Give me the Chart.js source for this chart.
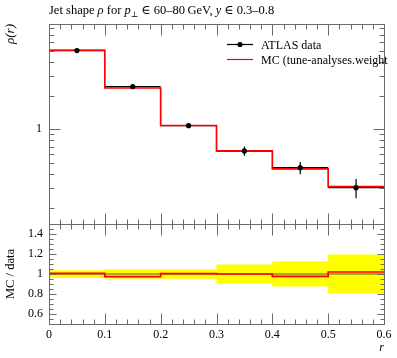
<!DOCTYPE html>
<html><head><meta charset="utf-8">
<script src="https://cdn.jsdelivr.net/npm/chart.js@4/dist/chart.umd.min.js"></script>
<style>
html,body{margin:0;padding:0;background:#fff;}
#wrap{position:relative;width:397px;height:358px;overflow:hidden;}
canvas{position:absolute;left:0;top:0;}
</style></head><body>
<div id="wrap"><canvas id="ratio" width="397" height="358"></canvas><canvas id="main" width="397" height="358"></canvas></div>
<script>
// ---- data ----
const binEdges   = [0, 0.1, 0.2, 0.3, 0.4, 0.5, 0.6];
const binCenters = [0.05, 0.15, 0.25, 0.35, 0.45, 0.55];
const dataRho    = [5.04, 2.40, 1.077, 0.640, 0.454, 0.301];
const dataRelErr = [0.038, 0.047, 0.048, 0.095, 0.125, 0.195];
const mcRho      = [5.07, 2.335, 1.080, 0.640, 0.4435, 0.307];
const xTickVals  = [0, 0.1, 0.2, 0.3, 0.4, 0.5, 0.6];
const xTickLabels = ['0', '0.1', '0.2', '0.3', '0.4', '0.5', '0.6'];
const mainYTickVals = [1];
const ratioTickVals = [0.6, 0.8, 1, 1.2, 1.4];
const ratioTickLabels = ['0.6', '0.8', '1', '1.2', '1.4'];
const legendLabels = ['ATLAS data', 'MC (tune-analyses.weight'];

const SERIF = "'Liberation Serif', 'DejaVu Serif', serif";
const FRAME = '#6a6a6a';
const STEP = 'before';

function stepPoints(vals) {
  const p = vals.map((v, i) => ({x: binEdges[i], y: v}));
  p.push({x: binEdges[vals.length], y: vals[vals.length - 1]});
  return p;
}
function xErrSegments(vals) {
  const p = [];
  vals.forEach((v, i) => { p.push({x: binEdges[i], y: v}, {x: binEdges[i + 1], y: v}, {x: binEdges[i + 1], y: null}); });
  return p;
}
function yErrSegments(vals, rel) {
  const p = [];
  vals.forEach((v, i) => { p.push({x: binCenters[i], y: v * (1 - rel[i])}, {x: binCenters[i], y: v * (1 + rel[i])}, {x: binCenters[i], y: null}); });
  return p;
}
const ratioMC = mcRho.map((v, i) => v / dataRho[i]);
const ratioData = dataRho.map((v, i) => v / dataRho[i]);
const bandHi = dataRelErr.map(e => 1 + e);
const bandLo = dataRelErr.map(e => 1 - e);

// tick sets
const xMajor = xTickVals;
const xMinor = []; for (let i = 0; i <= 30; i++) { if (i % 5) xMinor.push(i * 0.02); }
const logMinor = []; [0.1, 1].forEach(d => { for (let k = 2; k <= 9; k++) logMinor.push(d * k); });
const rMinor = []; for (let i = 11; i <= 29; i++) rMinor.push(i * 0.05);

function framePlugin(yMajor, yMinor, yMajLen, yMinLen) {
  return {
    id: 'frameTicks',
    afterDatasetsDraw(chart) {
      const {ctx, chartArea: a, scales: {x, y}} = chart;
      ctx.save();
      ctx.strokeStyle = FRAME; ctx.lineWidth = 1;
      ctx.beginPath();
      const L = a.left + 0.5, R = a.right + 0.5, T = a.top + 0.5, B = a.bottom + 0.5;
      const xt = (v, len) => { const p = Math.round(x.getPixelForValue(v)) + 0.5; ctx.moveTo(p, B); ctx.lineTo(p, B - len); ctx.moveTo(p, T); ctx.lineTo(p, T + len); };
      const yt = (v, len) => { const p = Math.round(y.getPixelForValue(v)) + 0.5; if (p < T || p > B) return; ctx.moveTo(L, p); ctx.lineTo(L + len, p); ctx.moveTo(R, p); ctx.lineTo(R - len, p); };
      xMajor.forEach(v => xt(v, 11));
      xMinor.forEach(v => xt(v, 5));
      yMajor.forEach(v => yt(v, yMajLen));
      yMinor.forEach(v => yt(v, yMinLen));
      ctx.stroke();
      ctx.strokeRect(L, T, R - L, B - T);
      ctx.restore();
    }
  };
}

const titlePlugin = {
  id: 'richTitle',
  afterDraw(chart) {
    const ctx = chart.ctx;
    ctx.save();
    ctx.fillStyle = '#000';
    ctx.textBaseline = 'alphabetic';
    const parts = [
      ['Jet shape ', ''], ['ρ', 'italic'], [' for ', ''], ['p', 'italic'], ['⊥', 'sub'],
      [' ∈ 60–80\u2009GeV, ', ''], ['y', 'italic'], [' ∈ 0.3–0.8', '']
    ];
    let xx = 49; const base = 14;
    parts.forEach(([t, s]) => {
      if (s === 'sub') { ctx.font = '8px ' + SERIF; ctx.fillText(t, xx, base + 3); xx += ctx.measureText(t).width; return; }
      ctx.font = (s === 'italic' ? 'italic ' : '') + '12.5px ' + SERIF;
      ctx.fillText(t, xx, base);
      xx += ctx.measureText(t).width;
    });
    // legend
    ctx.strokeStyle = '#000'; ctx.lineWidth = 1.2;
    ctx.beginPath(); ctx.moveTo(227, 44.5); ctx.lineTo(253, 44.5); ctx.stroke();
    ctx.beginPath(); ctx.arc(240, 44.5, 2.6, 0, Math.PI * 2); ctx.fill();
    ctx.strokeStyle = '#ff0000'; ctx.lineWidth = 1.2;
    ctx.beginPath(); ctx.moveTo(227, 59.5); ctx.lineTo(253, 59.5); ctx.stroke();
    ctx.font = '12px ' + SERIF; ctx.fillStyle = '#000';
    ctx.fillText(legendLabels[0], 261, 48.5);
    ctx.fillText(legendLabels[1], 261, 63.5);
    ctx.restore();
  }
};

const common = {
  responsive: false, animation: false, events: [],
  plugins: {legend: {display: false}, tooltip: {enabled: false}, title: {display: false}},
  elements: {point: {radius: 0}, line: {tension: 0}}
};

new Chart(document.getElementById('main'), {
  type: 'line',
  data: {datasets: [
    {data: binCenters.map((c, i) => ({x: c, y: dataRho[i]})), showLine: false, pointRadius: 2.6, pointBackgroundColor: '#000', pointBorderWidth: 0},
    {data: yErrSegments(dataRho, dataRelErr), borderColor: '#000', borderWidth: 1.2, spanGaps: false},
    {data: stepPoints(mcRho), stepped: STEP, borderColor: '#ff0000', borderWidth: 1.7},
    {data: xErrSegments(dataRho), borderColor: '#000', borderWidth: 1.4, spanGaps: false}
  ]},
  options: Object.assign({}, common, {
    layout: {padding: {top: 24, right: 13, left: 0, bottom: 0}},
    scales: {
      x: {type: 'linear', min: 0, max: 0.6, grid: {display: false, drawTicks: false}, border: {display: false},
          ticks: {display: false}, afterFit(s) { s.height = 134; }},
      y: {type: 'logarithmic', min: 0.1426, max: 8.7, grid: {display: false, drawTicks: false}, border: {display: false},
          afterBuildTicks(s) { s.ticks = mainYTickVals.map(v => ({value: v})); },
          ticks: {padding: 7, color: '#000', font: {family: SERIF, size: 12}, callback: (v) => String(v)},
          title: {display: true, text: 'ρ(r)', align: 'end', color: '#000', font: {family: SERIF, size: 13, style: 'italic'}, padding: {top: 3, bottom: 0}},
          afterFit(s) { s.width = 49; }}
    }
  }),
  plugins: [framePlugin([0.1, 1, 10], logMinor, 11, 5), titlePlugin]
});

new Chart(document.getElementById('ratio'), {
  type: 'line',
  data: {datasets: [
    {data: stepPoints(ratioMC), stepped: STEP, borderColor: '#ff0000', borderWidth: 1.7},
    {data: stepPoints(ratioData), stepped: STEP, borderColor: '#555', borderWidth: 1},
    {data: stepPoints(bandHi), stepped: STEP, borderWidth: 0, borderColor: 'rgba(0,0,0,0)', backgroundColor: '#ffff00', fill: '+1'},
    {data: stepPoints(bandLo), stepped: STEP, borderWidth: 0, borderColor: 'rgba(0,0,0,0)'}
  ]},
  options: Object.assign({}, common, {
    layout: {padding: {top: 224, right: 13, left: 0, bottom: 0}},
    scales: {
      x: {type: 'linear', min: 0, max: 0.6, grid: {display: false, drawTicks: false}, border: {display: false},
          afterBuildTicks(s) { s.ticks = xTickVals.map(v => ({value: v})); },
          ticks: {padding: 4, color: '#000', maxRotation: 0, font: {family: SERIF, size: 12}, callback: (v, i) => xTickLabels[i]},
          title: {display: true, text: 'r', align: 'end', color: '#000', font: {family: SERIF, size: 12, style: 'italic'}, padding: {top: 0, bottom: 3}},
          afterFit(s) { s.height = 34; }},
      y: {type: 'linear', min: 0.5, max: 1.5, grid: {display: false, drawTicks: false}, border: {display: false},
          afterBuildTicks(s) { s.ticks = ratioTickVals.map(v => ({value: v})); },
          ticks: {padding: 6, color: '#000', font: {family: SERIF, size: 12}, callback: (v, i) => ratioTickLabels[i]},
          title: {display: true, text: 'MC / data', align: 'center', color: '#000', font: {family: SERIF, size: 12.5}, padding: {top: 3, bottom: 0}},
          afterFit(s) { s.width = 49; }}
    }
  }),
  plugins: [framePlugin(ratioTickVals, rMinor, 7, 4)]
});
</script>
</body></html>
